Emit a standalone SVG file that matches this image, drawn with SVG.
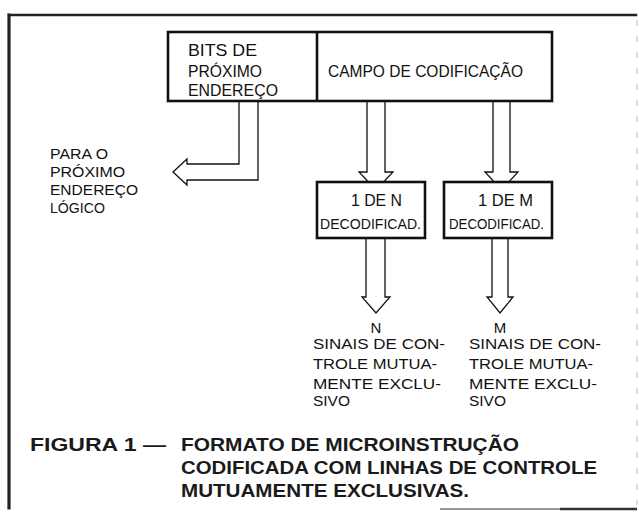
<svg xmlns="http://www.w3.org/2000/svg" width="639" height="512" viewBox="0 0 639 512">
<style>
.t{font-family:"Liberation Sans",Arial,sans-serif;font-size:17px;fill:#111}
.s{font-size:15px}
.c{font-family:"Liberation Sans",Arial,sans-serif;font-size:18px;font-weight:bold;fill:#1a1a1a}
.box{fill:#fff;stroke:#111;stroke-width:2.6}
.arr{fill:none;stroke:#111;stroke-width:1.3;stroke-linejoin:miter}
.frame{fill:none;stroke:#222;stroke-linecap:square}
</style>
<g id="frame">
<line class="frame" x1="9" y1="15" x2="636" y2="15" stroke-width="2.5"/>
<line class="frame" x1="9" y1="15" x2="9" y2="508" stroke-width="3.2"/>
<line x1="440" y1="509" x2="560" y2="509" stroke="#777" stroke-width="1.5"/>
<line x1="560" y1="509" x2="637" y2="509" stroke="#333" stroke-width="2.5"/>
<line x1="637" y1="20" x2="637" y2="505" stroke="#bbb" stroke-width="1" stroke-dasharray="6 10"/>
</g>
<g id="connectors">
<polyline class="arr" points="239,101 239,164 187,164 187,159 173,172 187,185 187,180 258,180 258,101"/>
<polyline class="arr" points="367,101 367,172 359,172 376,190 393,172 385,172 385,101"/>
<polyline class="arr" points="493,101 493,172 485,172 501.5,190 518,172 510,172 510,101"/>
<polyline class="arr" points="366,238 366,297 362,297 376,313 390,297 385,297 385,238"/>
<polyline class="arr" points="492,238 492,297 487,297 500,313 513,297 508,297 508,238"/>
</g>
<g id="microinstruction">
<rect class="box" x="168" y="32" width="384" height="69"/>
<line x1="317" y1="32" x2="317" y2="101" stroke="#111" stroke-width="2.6"/>
</g>
<g id="next-address-bits">
<text class="t" x="188" y="56" textLength="69" lengthAdjust="spacingAndGlyphs">BITS DE</text>
<text class="t" x="188" y="77" textLength="74" lengthAdjust="spacingAndGlyphs">PRÓXIMO</text>
<text class="t" x="188" y="96" textLength="90" lengthAdjust="spacingAndGlyphs">ENDEREÇO</text>
</g>
<g id="coding-field">
<text class="t" x="328" y="77" textLength="195" lengthAdjust="spacingAndGlyphs">CAMPO DE CODIFICAÇÃO</text>
</g>
<g id="next-logical-address">
<text class="t s" x="50" y="159" textLength="58" lengthAdjust="spacingAndGlyphs">PARA O</text>
<text class="t s" x="50" y="177" textLength="75" lengthAdjust="spacingAndGlyphs">PRÓXIMO</text>
<text class="t s" x="50" y="195" textLength="88" lengthAdjust="spacingAndGlyphs">ENDEREÇO</text>
<text class="t s" x="50" y="213" textLength="55" lengthAdjust="spacingAndGlyphs">LÓGICO</text>
</g>
<g id="decoder-n">
<rect class="box" x="317" y="182" width="108" height="56"/>
<text class="t" x="351" y="206" textLength="51" lengthAdjust="spacingAndGlyphs">1 DE N</text>
<text class="t s" x="320" y="229" textLength="101" lengthAdjust="spacingAndGlyphs">DECODIFICAD.</text>
</g>
<g id="decoder-m">
<rect class="box" x="444" y="182" width="108" height="56"/>
<text class="t" x="478" y="206" textLength="55" lengthAdjust="spacingAndGlyphs">1 DE M</text>
<text class="t s" x="449" y="229" textLength="95" lengthAdjust="spacingAndGlyphs">DECODIFICAD.</text>
</g>
<g id="signals-n">
<text class="t s" x="376" y="333" text-anchor="middle">N</text>
<text class="t s" x="313" y="349" textLength="132" lengthAdjust="spacingAndGlyphs">SINAIS DE CON-</text>
<text class="t s" x="313" y="369" textLength="124" lengthAdjust="spacingAndGlyphs">TROLE MUTUA-</text>
<text class="t s" x="313" y="389" textLength="128" lengthAdjust="spacingAndGlyphs">MENTE EXCLU-</text>
<text class="t s" x="313" y="406" textLength="37" lengthAdjust="spacingAndGlyphs">SIVO</text>
</g>
<g id="signals-m">
<text class="t s" x="500" y="333" text-anchor="middle">M</text>
<text class="t s" x="469" y="349" textLength="132" lengthAdjust="spacingAndGlyphs">SINAIS DE CON-</text>
<text class="t s" x="469" y="369" textLength="124" lengthAdjust="spacingAndGlyphs">TROLE MUTUA-</text>
<text class="t s" x="469" y="389" textLength="128" lengthAdjust="spacingAndGlyphs">MENTE EXCLU-</text>
<text class="t s" x="469" y="406" textLength="37" lengthAdjust="spacingAndGlyphs">SIVO</text>
</g>
<g id="caption">
<text class="c" y="451"><tspan x="30" textLength="136" lengthAdjust="spacingAndGlyphs">FIGURA 1 —</tspan><tspan x="181" textLength="338" lengthAdjust="spacingAndGlyphs">FORMATO DE MICROINSTRUÇÃO</tspan></text>
<text class="c" x="181" y="474" textLength="416" lengthAdjust="spacingAndGlyphs">CODIFICADA COM LINHAS DE CONTROLE</text>
<text class="c" x="181" y="497" textLength="288" lengthAdjust="spacingAndGlyphs">MUTUAMENTE EXCLUSIVAS.</text>
</g>
</svg>
